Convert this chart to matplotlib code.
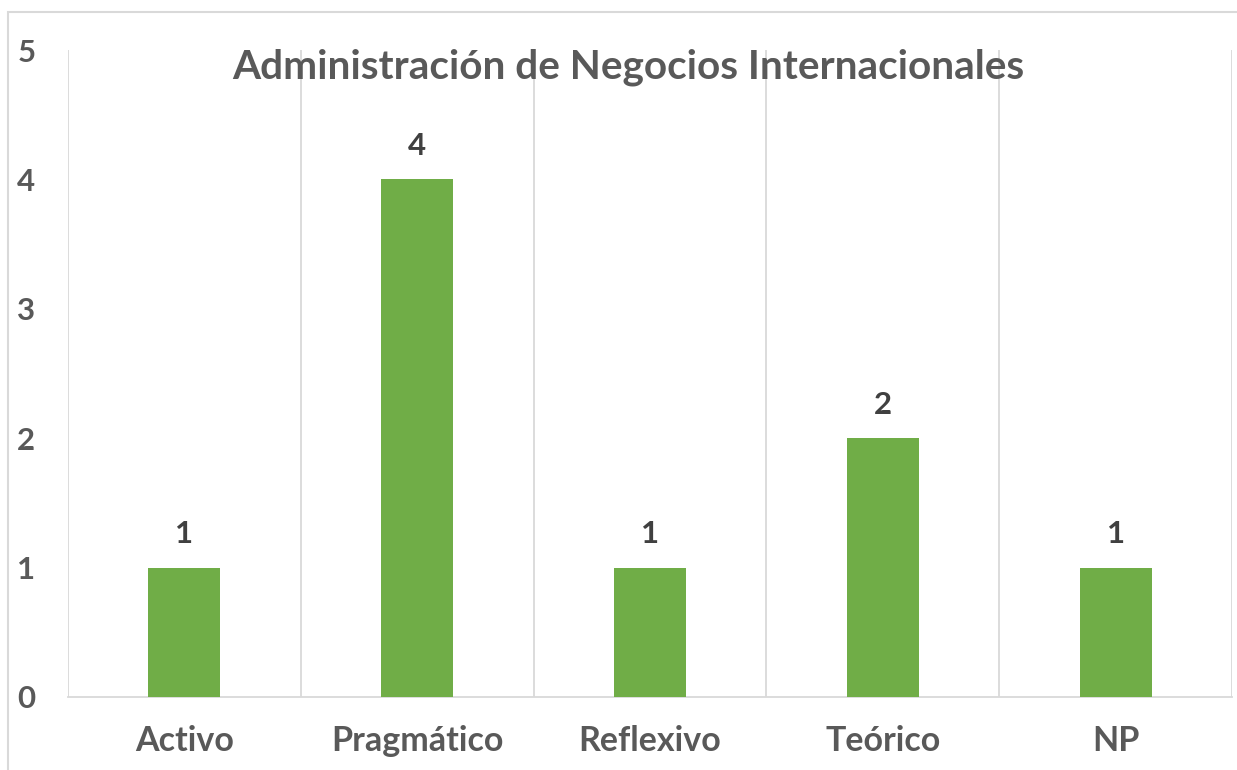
import matplotlib.pyplot as plt
from matplotlib.patches import Rectangle

categorias = ['Activo', 'Pragmático', 'Reflexivo', 'Teórico', 'NP']
valores = [1, 4, 1, 2, 1]
titulo = 'Administración de Negocios Internacionales'

plt.rcParams['font.family'] = ['Lato', 'DejaVu Sans']
gris = '#595959'

fig = plt.figure(figsize=(12.37, 7.70), dpi=100)
ax = fig.add_axes([68 / 1237, 73 / 770, 1164 / 1237, 647 / 770])

x = range(len(categorias))
barras = ax.bar(x, valores, width=0.31, color='#70AD47', zorder=3)
for b, v in zip(barras, valores):
    ax.text(b.get_x() + b.get_width() / 2, v + 0.15, str(v), ha='center', va='bottom',
            fontsize=22.5, fontweight='bold', color='#404040')

ax.set_xlim(-0.5, len(categorias) - 0.5)
ax.set_ylim(0, 5)
ax.set_yticks(range(6))
ax.set_xticks(list(x))
ax.set_xticklabels(categorias)

# separadores verticales entre categorías
for b in range(len(categorias) + 1):
    ax.axvline(b - 0.5, color='#d9d9d9', lw=1.3, zorder=1)

for s in ['top', 'right', 'left']:
    ax.spines[s].set_visible(False)
ax.spines['bottom'].set_color('#d9d9d9')
ax.spines['bottom'].set_linewidth(1.3)
ax.tick_params(length=0)
ax.tick_params(axis='x', pad=20, labelsize=24.5, labelcolor=gris)
ax.tick_params(axis='y', pad=30, labelsize=22.5, labelcolor=gris)
for t in ax.get_xticklabels() + ax.get_yticklabels():
    t.set_fontweight('bold')
for t in ax.get_yticklabels():
    t.set_horizontalalignment('center')

fig.text(628 / 1237, 1 - 67 / 770, titulo, ha='center', va='center',
         fontsize=29.2, fontweight='bold', color=gris)

# marco del gráfico
fig.patches.append(Rectangle((8 / 1237, -0.1), 1.2, 1 - 12 / 770 + 0.1,
                             transform=fig.transFigure, fill=False,
                             edgecolor='#d9d9d9', lw=1.5))

fig.savefig('out.png', dpi=100)
